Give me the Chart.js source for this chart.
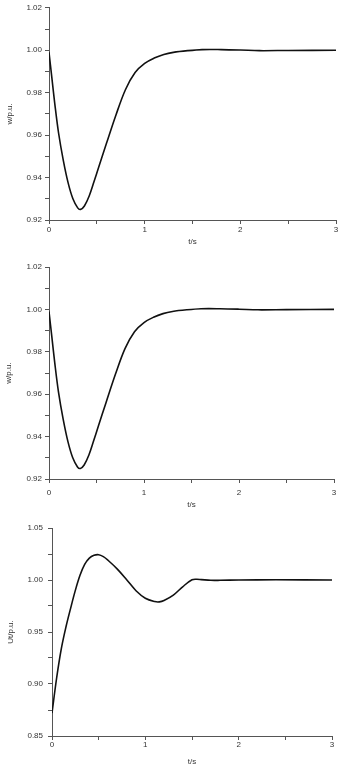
<!DOCTYPE html>
<html>
<head>
<meta charset="utf-8">
<script src="https://cdn.jsdelivr.net/npm/chart.js@4"></script>
<style>
    html, body { margin: 0; padding: 0; background: #fff; }
    body { width: 343px; height: 771px; position: relative; overflow: hidden; }
    canvas { position: absolute; left: 0; }
</style>
</head>
<body>
<canvas id="graficoW1" width="343" height="255" style="top:0px"></canvas>
<canvas id="graficoW2" width="343" height="255" style="top:255px"></canvas>
<canvas id="graficoU" width="343" height="261" style="top:510px"></canvas>
<script>
// rotor speed response (same curve on the first two plots)
const tempoW = [0, 0.03, 0.06, 0.1, 0.15, 0.2, 0.25, 0.3, 0.33, 0.37, 0.42, 0.47, 0.52, 0.6, 0.7, 0.8, 0.9, 1.0, 1.1, 1.2, 1.3, 1.45, 1.6, 1.8, 2.0, 2.2, 2.5, 3.0];
const velocidadeW = [0.999, 0.987, 0.975, 0.961, 0.948, 0.9375, 0.930, 0.9257, 0.925, 0.9266, 0.9313, 0.938, 0.945, 0.956, 0.9695, 0.9815, 0.9895, 0.9938, 0.9963, 0.998, 0.999, 0.9998, 1.0003, 1.0003, 1.0001, 0.9998, 0.9999, 1.0];

// terminal voltage response
const tempoU = [0, 0.05, 0.1, 0.15, 0.2, 0.25, 0.3, 0.35, 0.4, 0.45, 0.5, 0.55, 0.6, 0.7, 0.8, 0.9, 1.0, 1.1, 1.15, 1.2, 1.3, 1.4, 1.5, 1.55, 1.6, 1.7, 1.8, 2.0, 2.4, 3.0];
const tensaoU = [0.872, 0.906, 0.934, 0.955, 0.973, 0.990, 1.0045, 1.015, 1.021, 1.0237, 1.0243, 1.0225, 1.019, 1.0105, 1.0003, 0.9897, 0.9825, 0.9793, 0.979, 0.9803, 0.9855, 0.9935, 1.0002, 1.0007, 1.0004, 0.9997, 0.9997, 1.0, 1.0002, 1.0];

const eixoX = { min: 0, max: 3, passo: 0.5, titulo: 't/s' };
const eixoW = { min: 0.92, max: 1.02, passo: 0.01, rotuloCada: 0.02, titulo: 'w/p.u.' };
const eixoU = { min: 0.85, max: 1.05, passo: 0.025, rotuloCada: 0.05, titulo: 'Ut/p.u.' };

const COR_EIXO = '#555';
const COR_TEXTO = '#333';
const FONTE = { family: 'Liberation Sans, Arial, sans-serif', size: 8 };

function pontos(xs, ys) {
    return xs.map((x, i) => ({ x: x, y: ys[i] }));
}

function renderGrafico(id, xs, ys, eixoY, geo) {
    const grafico = document.getElementById(id);
    return new Chart(grafico, {
        type: 'line',
        data: {
            datasets: [{
                data: pontos(xs, ys),
                borderColor: '#111',
                borderWidth: 1.6,
                pointRadius: 0,
                tension: 0.35,
                fill: false
            }]
        },
        options: {
            responsive: false,
            animation: false,
            events: [],
            layout: { padding: { top: geo.topo, right: geo.direita, bottom: 0, left: 0 } },
            plugins: { legend: { display: false }, tooltip: { enabled: false } },
            scales: {
                x: {
                    type: 'linear',
                    min: eixoX.min,
                    max: eixoX.max,
                    afterFit: s => { s.height = geo.alturaX; },
                    border: { display: true, color: COR_EIXO, width: 1 },
                    grid: { drawOnChartArea: false, drawTicks: true, tickLength: 4, tickColor: COR_EIXO },
                    ticks: {
                        stepSize: eixoX.passo,
                        autoSkip: false,
                        maxRotation: 0,
                        padding: geo.padX,
                        color: COR_TEXTO,
                        font: FONTE,
                        callback: v => (Math.abs(v - Math.round(v)) < 1e-6 ? String(Math.round(v)) : '')
                    },
                    title: { display: true, text: eixoX.titulo, color: COR_TEXTO, font: FONTE, padding: { top: 0, bottom: geo.tituloX } }
                },
                y: {
                    type: 'linear',
                    min: eixoY.min,
                    max: eixoY.max,
                    afterFit: s => { s.width = geo.larguraY; },
                    border: { display: true, color: COR_EIXO, width: 1 },
                    grid: { drawOnChartArea: false, drawTicks: true, tickLength: 4, tickColor: COR_EIXO },
                    ticks: {
                        stepSize: eixoY.passo,
                        autoSkip: false,
                        padding: geo.padY,
                        color: COR_TEXTO,
                        font: FONTE,
                        callback: v => {
                            const r = Math.round(v * 1000);
                            const k = Math.round(eixoY.rotuloCada * 1000);
                            return r % k === 0 ? (r / 1000).toFixed(2) : '';
                        }
                    },
                    title: { display: true, text: eixoY.titulo, color: COR_TEXTO, font: FONTE, padding: { top: geo.tituloY, bottom: 0 } }
                }
            }
        }
    });
}

renderGrafico('graficoW1', tempoW, velocidadeW, eixoW,
    { topo: 5, direita: 7, alturaX: 35, larguraY: 49, padX: 1, padY: 3, tituloX: 8, tituloY: 5 });
renderGrafico('graficoW2', tempoW, velocidadeW, eixoW,
    { topo: 12, direita: 9, alturaX: 31, larguraY: 49, padX: 5, padY: 3, tituloX: 0, tituloY: 4 });
renderGrafico('graficoU', tempoU, tensaoU, eixoU,
    { topo: 18, direita: 11, alturaX: 35, larguraY: 52, padX: 0, padY: 5, tituloX: 4, tituloY: 6 });
</script>
</body>
</html>
